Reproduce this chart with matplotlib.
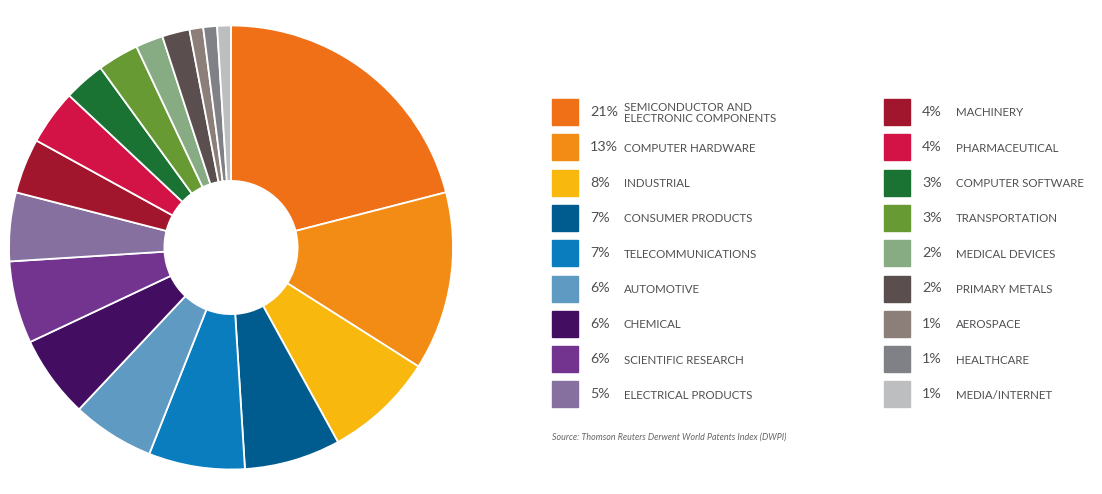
import matplotlib.pyplot as plt
from matplotlib.patches import Rectangle

# data, clockwise from 12 o'clock
shares = [21, 13, 8, 7, 7, 6, 6, 6, 5, 4, 4, 3, 3, 2, 2, 1, 1, 1]
sectors = ['SEMICONDUCTOR AND\nELECTRONIC COMPONENTS', 'COMPUTER HARDWARE', 'INDUSTRIAL',
           'CONSUMER PRODUCTS', 'TELECOMMUNICATIONS', 'AUTOMOTIVE', 'CHEMICAL',
           'SCIENTIFIC RESEARCH', 'ELECTRICAL PRODUCTS', 'MACHINERY', 'PHARMACEUTICAL',
           'COMPUTER SOFTWARE', 'TRANSPORTATION', 'MEDICAL DEVICES', 'PRIMARY METALS',
           'AEROSPACE', 'HEALTHCARE', 'MEDIA/INTERNET']
colors = ['#f07018', '#f28c14', '#f9b80e', '#005b8f', '#0a7dbf', '#5f9ac2', '#430e62',
          '#73348f', '#8670a0', '#a1162d', '#d31245', '#1a7333', '#679a32', '#87ab82',
          '#5a4f4e', '#8c7e78', '#7f8186', '#bdbec0']
source = 'Source: Thomson Reuters Derwent World Patents Index (DWPI)'

W, H = 1102, 494
fig = plt.figure(figsize=(W / 100, H / 100), dpi=100)

# donut
cx, cy, r = 231, 247.5, 222
ax = fig.add_axes([(cx - r) / W, (H - cy - r) / H, 2 * r / W, 2 * r / H])
ax.pie(shares, colors=colors, startangle=90, counterclock=False, radius=1,
       wedgeprops=dict(width=0.70, edgecolor='white', linewidth=1.3))
ax.set_xlim(-1, 1)
ax.set_ylim(-1, 1)
ax.set_aspect('equal')
ax.axis('off')

# legend, two columns of nine
txt = '#505053'
row0, step = 112, 35.3
for i, (s, name, c) in enumerate(zip(shares, sectors, colors)):
    col, row = divmod(i, 9)
    x0 = 552 if col == 0 else 884
    y = row0 + row * step
    fig.patches.append(Rectangle((x0 / W, 1 - (y + 13) / H), 26 / W, 26 / H,
                                 transform=fig.transFigure, color=c))
    fig.text((x0 + 38) / W, 1 - y / H, f'{s}%', fontsize=10.3, color=txt,
             family='Lato', va='center', ha='left')
    fig.text((x0 + 72) / W, 1 - (y + 1) / H, name, fontsize=8.3, color=txt,
             family='Lato', va='center', ha='left', linespacing=0.95)

fig.text(552 / W, 1 - 437 / H, source, fontsize=6.4, style='italic',
         color='#666666', family='Lato', va='center')

fig.savefig('out.png', dpi=100)
